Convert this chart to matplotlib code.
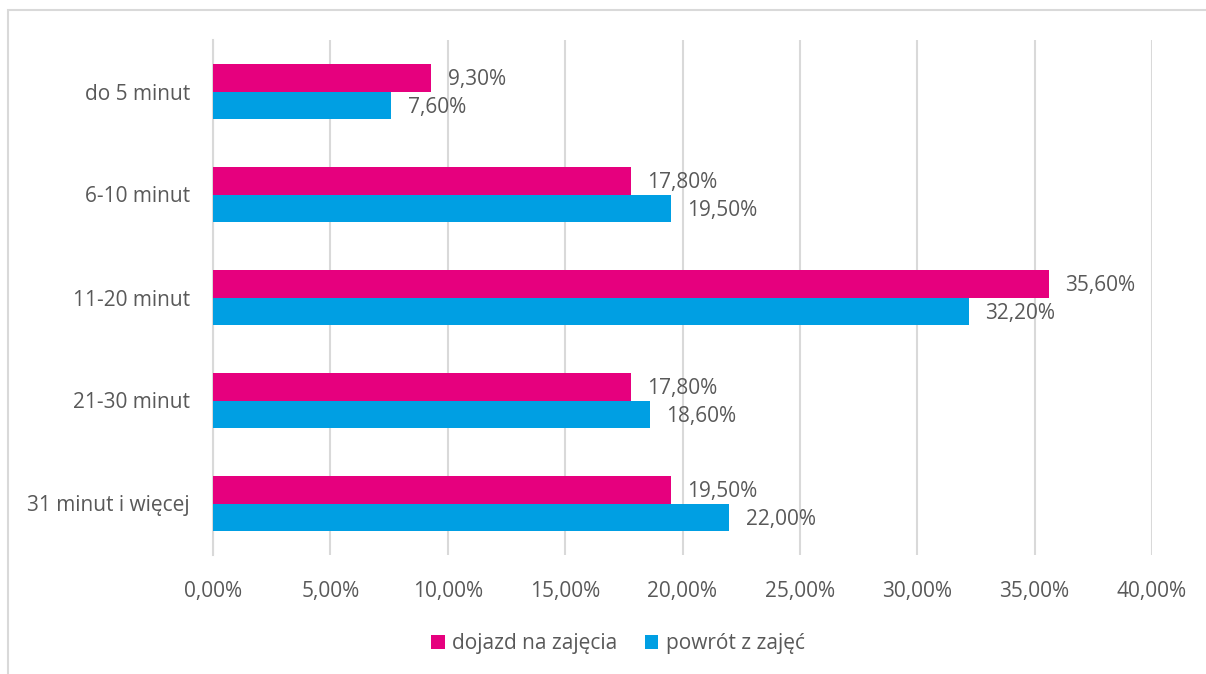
import matplotlib
matplotlib.use("Agg")
import matplotlib.pyplot as plt
from matplotlib.patches import Rectangle
import numpy as np

categories = ["do 5 minut", "6-10 minut", "11-20 minut", "21-30 minut", "31 minut i więcej"]
dojazd = [9.3, 17.8, 35.6, 17.8, 19.5]
powrot = [7.6, 19.5, 32.2, 18.6, 22.0]
series_names = ["dojazd na zajęcia", "powrót z zajęć"]
xticks = [0, 5, 10, 15, 20, 25, 30, 35, 40]

pink = "#E6007E"
blue = "#009FE3"
txt = "#595959"
grid = "#D9D9D9"

plt.rcParams['font.family'] = ['Open Sans', 'DejaVu Sans']
FS = 15
W = 'normal'

fig = plt.figure(figsize=(12.06, 6.74), dpi=100)
ax = fig.add_axes([213/1206, 1-555/674, (1152-213)/1206, (555-40)/674])

y = np.arange(len(categories))
h = 0.265
ax.barh(y - h/2, dojazd, height=h, color=pink, label=series_names[0], zorder=3)
ax.barh(y + h/2, powrot, height=h, color=blue, label=series_names[1], zorder=3)

def fmt(v):
    return f"{v:.2f}".replace(".", ",") + "%"

for yi, v in zip(y - h/2, dojazd):
    ax.text(v + 0.7, yi + 0.02, fmt(v), va="center", ha="left", fontsize=FS, color=txt, fontweight=W)
for yi, v in zip(y + h/2, powrot):
    ax.text(v + 0.7, yi + 0.02, fmt(v), va="center", ha="left", fontsize=FS, color=txt, fontweight=W)

ax.set_ylim(len(categories) - 0.5, -0.5)
ax.set_xlim(0, 40)
ax.set_yticks(y)
ax.set_yticklabels(categories, fontsize=FS, color=txt, fontweight=W)
ax.set_xticks(xticks)
ax.set_xticklabels([fmt(t) for t in xticks], fontsize=FS, color=txt, fontweight=W)
ax.tick_params(axis="both", length=0)
ax.tick_params(axis="y", pad=16.5)
ax.tick_params(axis="x", pad=19)
ax.grid(axis="x", color=grid, linewidth=1.5, zorder=0)
for s in ["top", "right", "bottom"]:
    ax.spines[s].set_visible(False)
ax.spines["left"].set_color(grid)
ax.spines["left"].set_linewidth(1.5)

leg = fig.legend(loc="center", bbox_to_anchor=(618/1206, 1-644/674), ncol=2, frameon=False,
                 prop={'size': FS, 'weight': W}, handlelength=0.65, handleheight=0.65,
                 handletextpad=0.35, columnspacing=1.3)
for t in leg.get_texts():
    t.set_color(txt)

fig.patches.append(Rectangle((8/1206, -0.05), 1.2, 1-10/674 + 0.05, transform=fig.transFigure,
                             fill=False, edgecolor=grid, linewidth=1.5))

fig.savefig("out.png", dpi=100)
